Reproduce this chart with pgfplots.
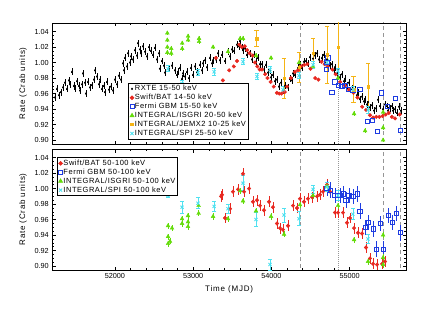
\documentclass[border=0pt]{standalone}
\usepackage{fontspec}
\setmainfont{Liberation Sans}
\newfontfamily\spc[LetterSpace=7]{Liberation Sans}
\newfontfamily\lbl[LetterSpace=10]{Liberation Sans}
\usepackage{pgfplots}
\pgfplotsset{compat=1.18}
\definecolor{cred}{RGB}{232,40,32}
\definecolor{cblue}{RGB}{30,60,225}
\definecolor{cgreen}{RGB}{100,220,10}
\definecolor{corange}{RGB}{245,180,20}
\definecolor{ccyan}{RGB}{80,225,240}
\definecolor{vgray}{RGB}{150,150,150}
\pgfplotsset{
  panel/.style={
    scale only axis, width=353.7pt, height=121pt,
    xmin=51200, xmax=55720, ymin=0.895, ymax=1.051,
    xtick={52000,53000,54000,55000}, minor x tick num=4,
    scaled x ticks=false, scaled y ticks=false,
    ytick={0.90,0.92,0.94,0.96,0.98,1.00,1.02,1.04}, minor y tick num=3,
    /pgf/number format/assume math mode=true,
    tick label style={font=\fontsize{7.3}{8}\selectfont},
    yticklabel style={/pgf/number format/.cd, fixed, fixed zerofill, precision=2},
    xticklabel style={/pgf/number format/.cd, fixed, precision=0, 1000 sep={}},
    major tick length=3.5pt, minor tick length=2pt,
    tick style={black, line width=0.5pt},
    axis line style={line width=0.8pt},
    ylabel={\lbl\fontsize{8}{9}\selectfont Rate (Crab units)},
    ylabel style={at={(axis description cs:-0.083,0.5)}, anchor=center},
    legend cell align=left,
    legend style={draw=black, line width=0.8pt, inner sep=1.2pt,
      font=\spc\fontsize{7.5}{8.2}\selectfont, row sep=0.4pt,
      nodes={inner sep=0.8pt}},
  },
  vline/.style={vgray, line width=0.7pt, dash pattern=on 4pt off 3pt, forget plot},
  vdot/.style={vgray, line width=0.7pt, dash pattern=on 0.8pt off 1.2pt, forget plot},
}
\begin{document}
\begin{tikzpicture}
\useasboundingbox (0pt,0pt) rectangle (443pt,308pt);
% ================= TOP PANEL =================
\begin{axis}[panel, at={(52.3pt,164pt)}, anchor=south west,
  xticklabels={},
  legend style={at={(rel axis cs:0.215,0.038)}, anchor=south west}]
\addplot[vline] coordinates {(54370,0.88) (54370,1.06)};
\addplot[vdot] coordinates {(54850,0.88) (54850,1.06)};
\addplot[vline] coordinates {(55425,0.88) (55425,1.06)};
\addplot[vline] coordinates {(55645,0.88) (55645,1.06)};
% RXTE 15-50 keV
\addplot[only marks, black, mark=diamond*, mark size=0.9pt, line width=0.5pt,
  error bars/.cd, y dir=both, y fixed=0.0045, x dir=both, x fixed=14,
  error mark=none, error bar style={line width=0.6pt}] coordinates {
(51235,0.955) (51260,0.966) (51286,0.958) (51311,0.962) (51337,0.968) (51362,0.974)
(51388,0.966) (51413,0.977) (51426,0.972) (51452,0.988) (51477,0.970) (51490,0.966)
(51516,0.976) (51541,0.970) (51554,0.964) (51580,0.972) (51592,0.986) (51618,0.974)
(51630,0.960) (51656,0.975) (51682,0.968) (51707,0.971) (51733,0.978) (51746,0.990)
(51771,0.982) (51797,0.972) (51810,0.978) (51836,0.966) (51861,0.970) (51873,0.962)
(51899,0.975) (51925,0.965) (51950,0.969) (51976,0.964) (52001,0.978) (52027,0.972)
(52052,0.983) (52078,0.978) (52104,0.999) (52116,0.990) (52129,1.006) (52155,0.995)
(52168,1.012) (52193,1.000) (52206,1.008) (52231,1.004) (52257,1.016) (52282,1.009)
(52295,1.025) (52321,1.017) (52333,1.012) (52359,1.021) (52385,1.014) (52410,1.008)
(52436,1.020) (52461,1.015) (52487,1.010) (52512,1.019) (52538,1.004) (52564,1.012)
(52576,0.992) (52602,1.002) (52627,0.996) (52640,0.987) (52692,0.992) (52730,0.996)
(52768,0.990) (52794,0.984) (52806,0.988) (52832,0.993) (52858,0.979) (52870,0.986)
(52896,0.982) (52922,0.988) (52947,0.980) (52973,0.993) (52998,0.984) (53024,0.995)
(53050,0.988) (53088,0.997) (53113,0.990) (53126,0.999) (53152,1.003) (53177,0.994)
(53216,1.006) (53241,0.999) (53254,1.003) (53292,1.004) (53318,1.012) (53343,1.003)
(53369,1.010) (53407,1.002) (53445,1.014) (53471,1.008) (53496,1.017) (53522,1.015)
(53560,1.023) (53586,1.021) (53599,1.028) (53624,1.020) (53637,1.016) (53663,1.018)
(53688,1.010) (53727,1.012) (53752,1.004) (53778,1.010) (53803,1.001) (53829,1.006)
(53854,0.998) (53880,0.998) (53905,0.991) (53931,0.997) (53957,0.987) (53982,0.990)
(53995,0.981) (54020,0.984) (54046,0.976) (54071,0.978) (54097,0.969) (54123,0.974)
(54148,0.964) (54173,0.970) (54212,0.968) (54237,0.979) (54263,0.977) (54276,0.986)
(54301,0.984) (54340,0.993) (54365,0.998) (54391,0.993) (54416,1.001) (54442,1.002)
(54467,0.999) (54493,1.007) (54532,1.005) (54557,1.009) (54583,1.012) (54608,1.004)
(54647,1.006) (54672,1.010) (54685,1.003) (54710,1.004) (54749,0.996) (54774,0.998)
(54800,0.990) (54812,0.994) (54838,0.986) (54851,0.990) (54876,0.981) (54902,0.985)
(54928,0.976) (54940,0.979) (54966,0.971) (54991,0.974) (55030,0.966) (55068,0.965)
(55094,0.958) (55107,0.961) (55132,0.953) (55158,0.956) (55183,0.950) (55196,0.953)
(55222,0.946) (55235,0.949) (55260,0.942) (55286,0.945) (55312,0.938) (55337,0.941)
(55363,0.952) (55388,0.944) (55427,0.940) (55452,0.946) (55478,0.944) (55490,0.938)
(55516,0.941) (55542,0.944) (55554,0.938) (55580,0.940) (55606,0.935) (55631,0.943)
(55657,0.938)
};
\addlegendentry{RXTE 15-50 keV}
% Swift/BAT 14-50 keV
\addplot[only marks, cred, mark=*, mark size=1.8pt] coordinates {
(53290,1.006) (53380,0.977) (53400,0.964) (53460,0.990) (53520,0.995) (53560,1.002)
(53590,1.023) (53620,1.020) (53660,1.021) (53690,1.016) (53720,1.012) (53760,1.009)
(53790,1.000) (53820,0.995) (53850,0.991) (53880,0.991) (53920,0.985) (53950,0.980)
(53990,0.975) (54030,0.969) (54070,0.961) (54100,0.960) (54130,0.960) (54170,0.962)
(54200,0.969) (54250,0.980) (54300,0.988) (54340,0.990) (54380,0.995) (54420,0.997)
(54460,0.998) (54500,0.992) (54560,0.980) (54600,0.978) (54640,1.001) (54680,0.998)
(54720,0.995) (54780,0.991) (54820,0.985) (54880,0.975) (54940,0.970) (54990,0.965)
(55050,0.961) (55100,0.955) (55160,0.943) (55210,0.939) (55260,0.932) (55300,0.929)
(55340,0.930) (55380,0.930) (55420,0.931) (55460,0.933) (55500,0.935) (55540,0.930)
(55580,0.928) (55640,0.933)
};
\addlegendentry{Swift/BAT 14-50 keV}
% Fermi GBM 15-50 keV
\addplot[only marks, cblue, mark=square, mark size=2.1pt, line width=0.8pt] coordinates {
(54698,0.991) (54710,1.000) (54723,1.006) (54774,0.962) (54812,0.975) (54851,0.971)
(54902,0.969) (54940,0.971) (54979,0.965) (55042,0.964) (55132,0.965) (55222,0.924)
(55286,0.925) (55350,0.911) (55401,0.961) (55478,0.943) (55580,0.954) (55644,0.913)
};
\addlegendentry{Fermi GBM 15-50 keV}
% INTEGRAL/ISGRI 20-50 keV
\addplot[only marks, cgreen, mark=triangle*, mark size=2.2pt,
  error bars/.cd, y dir=both, y fixed=0.003, error mark=none,
  error bar style={line width=0.8pt}] coordinates {
(52670,1.038) (52670,1.029) (52670,1.020) (52670,1.013) (52720,1.018) (52720,1.012)
(52860,1.025) (52860,1.018) (52935,1.034) (52935,1.029) (53075,1.031) (53075,1.027)
(53254,1.020) (53445,1.014) (53600,1.031) (53637,1.031) (53803,1.009) (53995,1.006)
(54353,1.000) (54532,0.995) (54851,0.980) (55056,0.934) (55197,0.912)
(55427,0.936) (55427,0.916) (55427,0.900)
};
\addlegendentry{INTEGRAL/ISGRI 20-50 keV}
% INTEGRAL/JEMX2 10-25 keV
\addplot[only marks, corange, mark=square*, mark size=1.2pt,
  error bars/.cd, y dir=both, y explicit,
  error mark options={rotate=90, mark size=2.2pt, line width=0.8pt},
  error bar style={line width=0.8pt}]
  table[x=x, y=y, y error=e] {
x y e
53810 1.031 0.010
54160 0.980 0.026
54353 0.994 0.019
54532 1.012 0.019
54710 1.010 0.037
54851 1.020 0.035
55050 0.965 0.017
55235 0.969 0.030
};
\addlegendentry{INTEGRAL/JEMX2 10-25 keV}
% INTEGRAL/SPI 25-50 keV
\addplot[only marks, ccyan, mark=x, mark size=2.2pt, line width=0.9pt,
  error bars/.cd, y dir=both, y fixed=0.004,
  error mark options={rotate=90, mark size=2.2pt, line width=0.8pt},
  error bar style={line width=0.8pt}] coordinates {
(52680,0.992) (52858,0.973) (53062,0.987) (53267,0.988) (53637,1.001) (53816,0.982)
(53982,0.991) (54148,0.965) (54353,0.983) (54532,0.997) (54710,1.000) (54851,0.989)
(55042,0.965) (55235,0.939)
};
\addlegendentry{INTEGRAL/SPI 25-50 keV}
\end{axis}
% ================= BOTTOM PANEL =================
\begin{axis}[panel, at={(52.3pt,38pt)}, anchor=south west,
  xlabel={\lbl\fontsize{8}{9}\selectfont Time (MJD)},
  xlabel style={at={(axis description cs:0.5,-0.157)}, anchor=center},
  legend style={at={(rel axis cs:0.013,0.93)}, anchor=north west}]
\addplot[vline] coordinates {(54370,0.88) (54370,1.06)};
\addplot[vdot] coordinates {(54850,0.88) (54850,1.06)};
\addplot[vline] coordinates {(55425,0.88) (55425,1.06)};
\addplot[vline] coordinates {(55645,0.88) (55645,1.06)};
% Swift/BAT 50-100 keV
\addplot[only marks, cred, mark=*, mark size=1.8pt,
  error bars/.cd, y dir=both, y fixed=0.007, error mark=none,
  error bar style={line width=0.8pt}] coordinates {
(53356,0.990) (53369,0.992) (53407,0.962) (53471,0.974) (53509,0.996) (53573,0.999)
(53637,1.019) (53650,0.996) (53714,1.000) (53765,0.983) (53816,0.985) (53854,0.978)
(53905,0.972) (53969,0.983) (54020,0.976) (54071,0.955) (54110,0.949) (54148,0.947)
(54212,0.952) (54276,0.978) (54327,0.975) (54365,0.987) (54416,0.983) (54467,0.987)
(54519,0.989) (54583,0.990) (54621,0.992) (54659,0.996) (54710,1.005) (54749,0.996)
(54812,0.969) (54851,0.969) (54915,0.969) (54966,0.956) (55004,0.962) (55056,0.949)
(55107,0.943) (55158,0.942) (55209,0.924) (55260,0.910) (55299,0.903) (55350,0.902)
(55414,0.903) (55452,0.906)
};
\addlegendentry{Swift/BAT 50-100 keV}
% Fermi GBM 50-100 keV
\addplot[only marks, cblue, mark=square, mark size=2.1pt, line width=0.8pt,
  error bars/.cd, y dir=both, y fixed=0.010, error mark=none,
  error bar style={line width=0.8pt}] coordinates {
(54710,1.000) (54749,0.998) (54812,0.991) (54876,0.991) (54915,0.993) (54953,0.985)
(54991,0.991) (55042,0.990) (55094,0.993) (55132,0.971) (55196,0.950) (55235,0.956)
(55299,0.948) (55337,0.922) (55388,0.955) (55427,0.922) (55490,0.965) (55542,0.956)
(55593,0.968) (55644,0.943)
};
\addlegendentry{Fermi GBM 50-100 keV}
% INTEGRAL/ISGRI 50-100 keV
\addplot[only marks, cgreen, mark=triangle*, mark size=2.2pt,
  error bars/.cd, y dir=both, y fixed=0.004, error mark=none,
  error bar style={line width=0.8pt}] coordinates {
(52679,0.952) (52679,0.938) (52679,0.929) (52704,0.932) (52730,0.949) (52858,0.961)
(52858,0.955) (52934,0.965) (52934,0.957) (52934,0.951) (53070,0.978) (53070,0.968)
(53254,0.964) (53445,0.961) (53599,0.997) (53637,0.984) (53803,0.971) (53995,0.964)
(54161,0.941) (54365,0.979) (54532,0.991) (54710,1.003) (54851,0.978) (55056,0.934)
(55235,0.906) (55427,0.940) (55427,0.911) (55427,0.902)
};
\addlegendentry{INTEGRAL/ISGRI 50-100 keV}
% INTEGRAL/SPI 50-100 keV
\addplot[only marks, ccyan, mark=x, mark size=2.2pt, line width=0.9pt,
  error bars/.cd, y dir=both, y explicit,
  error mark options={rotate=90, mark size=2.2pt, line width=0.8pt},
  error bar style={line width=0.8pt}]
  table[x=x, y=y, y error=e] {
x y e
52679 0.991 0.003
52858 0.976 0.008
53062 0.981 0.007
53267 0.977 0.006
53445 0.974 0.006
53637 1.007 0.010
53803 0.960 0.009
53982 0.902 0.007
54161 0.966 0.009
54353 0.961 0.009
54532 0.999 0.005
54710 1.002 0.006
54851 0.991 0.006
55042 0.967 0.007
55235 0.935 0.006
};
\addlegendentry{INTEGRAL/SPI 50-100 keV}
\end{axis}
\end{tikzpicture}
\end{document}
